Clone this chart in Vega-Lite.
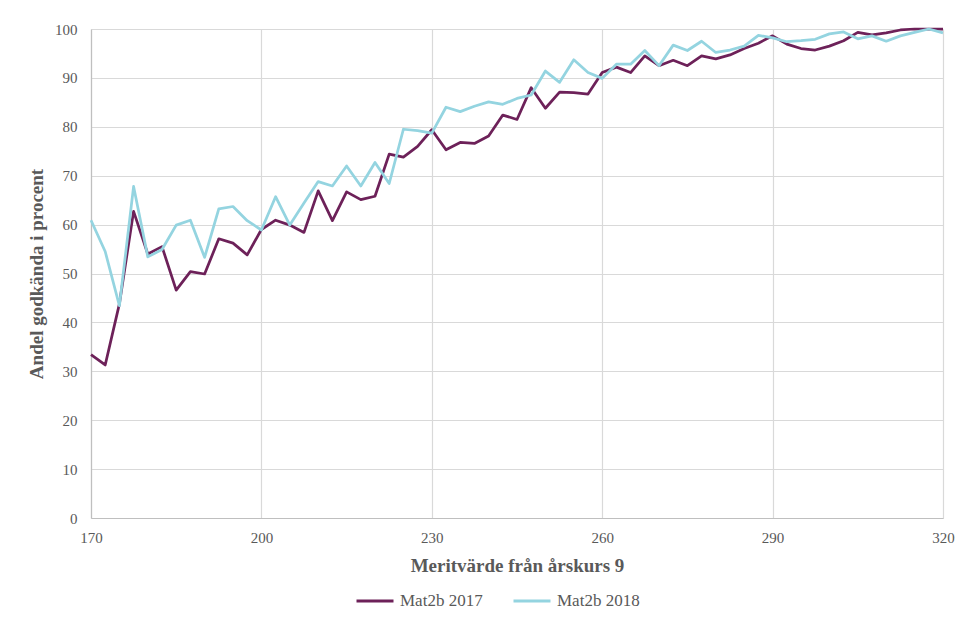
{
  "$schema": "https://vega.github.io/schema/vega-lite/v6.json",
  "width": 852,
  "height": 489,
  "autosize": {"type": "none"},
  "padding": {"left": 91, "top": 29, "right": 19, "bottom": 100},
  "background": "white",
  "config": {
    "font": "Liberation Serif, Times New Roman, serif",
    "view": {"stroke": null},
    "axis": {"labelFont": "Liberation Serif, Times New Roman, serif", "titleFont": "Liberation Serif, Times New Roman, serif"},
    "legend": {"labelFont": "Liberation Serif, Times New Roman, serif", "titleFont": "Liberation Serif, Times New Roman, serif"}
  },
  "data": {"values": [
    {"m": 170, "Mat2b 2017": 33.4, "Mat2b 2018": 60.9},
    {"m": 172.5, "Mat2b 2017": 31.3, "Mat2b 2018": 54.5},
    {"m": 175, "Mat2b 2017": 43.8, "Mat2b 2018": 43.4},
    {"m": 177.5, "Mat2b 2017": 62.7, "Mat2b 2018": 67.8},
    {"m": 180, "Mat2b 2017": 54.0, "Mat2b 2018": 53.4},
    {"m": 182.5, "Mat2b 2017": 55.5, "Mat2b 2018": 54.9},
    {"m": 185, "Mat2b 2017": 46.6, "Mat2b 2018": 59.9},
    {"m": 187.5, "Mat2b 2017": 50.4, "Mat2b 2018": 60.9},
    {"m": 190, "Mat2b 2017": 49.9, "Mat2b 2018": 53.3},
    {"m": 192.5, "Mat2b 2017": 57.1, "Mat2b 2018": 63.2},
    {"m": 195, "Mat2b 2017": 56.2, "Mat2b 2018": 63.7},
    {"m": 197.5, "Mat2b 2017": 53.8, "Mat2b 2018": 60.8},
    {"m": 200, "Mat2b 2017": 59.0, "Mat2b 2018": 58.9},
    {"m": 202.5, "Mat2b 2017": 60.9, "Mat2b 2018": 65.7},
    {"m": 205, "Mat2b 2017": 59.9, "Mat2b 2018": 59.9},
    {"m": 207.5, "Mat2b 2017": 58.4, "Mat2b 2018": 64.4},
    {"m": 210, "Mat2b 2017": 66.9, "Mat2b 2018": 68.8},
    {"m": 212.5, "Mat2b 2017": 60.8, "Mat2b 2018": 67.9},
    {"m": 215, "Mat2b 2017": 66.7, "Mat2b 2018": 72.0},
    {"m": 217.5, "Mat2b 2017": 65.1, "Mat2b 2018": 67.9},
    {"m": 220, "Mat2b 2017": 65.8, "Mat2b 2018": 72.7},
    {"m": 222.5, "Mat2b 2017": 74.4, "Mat2b 2018": 68.4},
    {"m": 225, "Mat2b 2017": 73.8, "Mat2b 2018": 79.5},
    {"m": 227.5, "Mat2b 2017": 76.0, "Mat2b 2018": 79.2},
    {"m": 230, "Mat2b 2017": 79.4, "Mat2b 2018": 78.7},
    {"m": 232.5, "Mat2b 2017": 75.3, "Mat2b 2018": 84.0},
    {"m": 235, "Mat2b 2017": 76.8, "Mat2b 2018": 83.1},
    {"m": 237.5, "Mat2b 2017": 76.6, "Mat2b 2018": 84.2},
    {"m": 240, "Mat2b 2017": 78.1, "Mat2b 2018": 85.1},
    {"m": 242.5, "Mat2b 2017": 82.4, "Mat2b 2018": 84.6},
    {"m": 245, "Mat2b 2017": 81.5, "Mat2b 2018": 85.8},
    {"m": 247.5, "Mat2b 2017": 88.0, "Mat2b 2018": 86.5},
    {"m": 250, "Mat2b 2017": 83.8, "Mat2b 2018": 91.4},
    {"m": 252.5, "Mat2b 2017": 87.1, "Mat2b 2018": 89.1},
    {"m": 255, "Mat2b 2017": 87.0, "Mat2b 2018": 93.7},
    {"m": 257.5, "Mat2b 2017": 86.7, "Mat2b 2018": 91.1},
    {"m": 260, "Mat2b 2017": 91.1, "Mat2b 2018": 89.9},
    {"m": 262.5, "Mat2b 2017": 92.2, "Mat2b 2018": 92.8},
    {"m": 265, "Mat2b 2017": 91.1, "Mat2b 2018": 92.8},
    {"m": 267.5, "Mat2b 2017": 94.5, "Mat2b 2018": 95.6},
    {"m": 270, "Mat2b 2017": 92.5, "Mat2b 2018": 92.5},
    {"m": 272.5, "Mat2b 2017": 93.6, "Mat2b 2018": 96.7},
    {"m": 275, "Mat2b 2017": 92.5, "Mat2b 2018": 95.6},
    {"m": 277.5, "Mat2b 2017": 94.5, "Mat2b 2018": 97.5},
    {"m": 280, "Mat2b 2017": 93.9, "Mat2b 2018": 95.2},
    {"m": 282.5, "Mat2b 2017": 94.7, "Mat2b 2018": 95.7},
    {"m": 285, "Mat2b 2017": 96.0, "Mat2b 2018": 96.5},
    {"m": 287.5, "Mat2b 2017": 97.1, "Mat2b 2018": 98.7},
    {"m": 290, "Mat2b 2017": 98.6, "Mat2b 2018": 98.2},
    {"m": 292.5, "Mat2b 2017": 96.9, "Mat2b 2018": 97.4},
    {"m": 295, "Mat2b 2017": 96.0, "Mat2b 2018": 97.6},
    {"m": 297.5, "Mat2b 2017": 95.7, "Mat2b 2018": 97.9},
    {"m": 300, "Mat2b 2017": 96.5, "Mat2b 2018": 99.0},
    {"m": 302.5, "Mat2b 2017": 97.6, "Mat2b 2018": 99.4},
    {"m": 305, "Mat2b 2017": 99.3, "Mat2b 2018": 98.0},
    {"m": 307.5, "Mat2b 2017": 98.8, "Mat2b 2018": 98.6},
    {"m": 310, "Mat2b 2017": 99.2, "Mat2b 2018": 97.5},
    {"m": 312.5, "Mat2b 2017": 99.8, "Mat2b 2018": 98.6},
    {"m": 315, "Mat2b 2017": 100, "Mat2b 2018": 99.3},
    {"m": 317.5, "Mat2b 2017": 100, "Mat2b 2018": 100},
    {"m": 320, "Mat2b 2017": 100, "Mat2b 2018": 99.2}
  ]},
  "transform": [{"fold": ["Mat2b 2017", "Mat2b 2018"], "as": ["serie", "v"]}],
  "mark": {"type": "line", "strokeWidth": 2.75, "strokeJoin": "round"},
  "encoding": {
    "x": {
      "field": "m", "type": "quantitative",
      "scale": {"domain": [170, 320], "nice": false, "zero": false},
      "axis": {
        "values": [170, 200, 230, 260, 290, 320],
        "title": "Meritvärde från årskurs 9",
        "grid": true, "gridColor": "#d9d9d9", "gridWidth": 1.2,
        "domainColor": "#bfbfbf", "domainWidth": 1.2,
        "ticks": false, "labelFlush": false,
        "labelFontSize": 15, "labelColor": "#595959", "labelPadding": 12,
        "titleFontSize": 19, "titleFontWeight": "bold", "titleColor": "#595959", "titlePadding": 11
      }
    },
    "y": {
      "field": "v", "type": "quantitative",
      "scale": {"domain": [0, 100], "nice": false},
      "axis": {
        "values": [0, 10, 20, 30, 40, 50, 60, 70, 80, 90, 100],
        "title": "Andel godkända i procent",
        "grid": true, "gridColor": "#d9d9d9", "gridWidth": 1.2,
        "domainColor": "#bfbfbf", "domainWidth": 1.2,
        "ticks": false,
        "labelFontSize": 15, "labelColor": "#595959", "labelPadding": 14,
        "titleFontSize": 19, "titleFontWeight": "bold", "titleColor": "#595959", "titlePadding": 8
      }
    },
    "color": {
      "field": "serie", "type": "nominal",
      "scale": {"domain": ["Mat2b 2017", "Mat2b 2018"], "range": ["#6d2159", "#94d4e0"]},
      "legend": {
        "title": null, "orient": "none", "legendX": 264, "legendY": 552,
        "direction": "horizontal", "symbolType": "stroke", "symbolSize": 1369,
        "symbolStrokeWidth": 3, "labelFontSize": 17, "labelColor": "#595959",
        "columnPadding": 24, "labelOffset": 5
      }
    }
  }
}
